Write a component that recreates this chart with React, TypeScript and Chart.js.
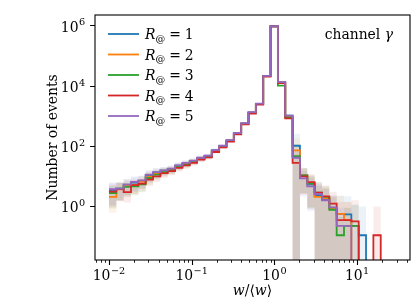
import React, { useEffect, useRef } from "react";
import { Chart, registerables } from "chart.js";

Chart.register(...registerables);

// ---------- data ----------
const binEdges = [
  0.01, 0.01227, 0.01505, 0.01847, 0.02266, 0.0278, 0.03411, 0.04185, 0.05135,
  0.06301, 0.07727, 0.0948, 0.1163, 0.1427, 0.1751, 0.2148, 0.2635, 0.3233,
  0.3967, 0.4867, 0.597, 0.7325, 0.8987, 1.1025, 1.3527, 1.6596, 2.0362,
  2.4981, 3.0649, 3.7605, 4.6132, 5.6599, 6.944, 8.5194, 10.452, 12.823,
  15.733, 19.303,
];

const seriesLabels = ["1", "2", "3", "4", "5"];
const seriesColors = ["#1f77b4", "#ff7f0e", "#2ca02c", "#d62728", "#9467bd"];

const countsR1 = [3.3, 3.8, 5.0, 6.0, 6.8, 10.5, 13, 15, 17, 22, 26, 31, 39, 46, 70, 98, 152, 260, 550, 1280, 2480, 21000, 930000, 13000, 1000, 100, 10.4, 5.2, 2.2, 1.67, 0.87, 0.55, 0.53, 0.22, 0.107, 0, 0];
const countsR2 = [2.0, 3.6, 4.6, 5.0, 6.5, 9.5, 12, 14, 16, 21, 25, 30, 38, 44, 68, 95, 148, 255, 540, 1250, 2450, 20800, 930000, 12800, 950, 70, 10.4, 5.6, 2.0, 1.8, 0.82, 0.55, 0.34, 0, 0, 0, 0];
const countsR3 = [2.7, 3.8, 4.3, 4.5, 5.2, 8.5, 11, 13.5, 15.5, 20, 24, 29, 36, 43, 66, 93, 145, 250, 530, 1230, 2420, 20500, 930000, 10000, 870, 45, 10.4, 5.6, 2.8, 2.0, 0.75, 0.107, 0.22, 0.22, 0, 0, 0];
const countsR4 = [3.0, 3.7, 2.9, 4.9, 5.5, 7.5, 9.7, 12.4, 14.5, 18.5, 22.3, 27, 35, 41, 62, 88, 138, 240, 510, 1180, 2350, 20000, 920000, 12000, 810, 27, 9.6, 6.2, 2.8, 2.1, 1.2, 0.34, 0.34, 0.31, 0, 0, 0.107];
const countsR5 = [3.6, 3.8, 5.2, 6.3, 7.1, 11, 13.4, 15.3, 17.4, 22.3, 27, 32, 40, 47, 72, 100, 155, 265, 560, 1300, 2500, 21000, 930000, 13000, 1000, 40, 8.3, 4.5, 2.5, 1.55, 0.9, 0.22, 0.22, 0, 0, 0, 0];

// relative uncertainty per bin (band half-height / value)
const relErr = [0.7, 0.6, 0.55, 0.5, 0.45, 0.4, 0.35, 0.3, 0.28, 0.25, 0.22, 0.2, 0.18, 0.16, 0.13, 0.11, 0.09, 0.07, 0.05, 0.035, 0.025, 0.01, 0.001, 0.02, 0.1, 1.5, 0.75, 0.85, 1.2, 1.3, 1.5, 3, 3, 4, 8, 8, 8];

const xTickValues = [0.01, 0.1, 1, 10];
const xTickExps = ["\u22122", "\u22121", "0", "1"];
const yTickValues = [1, 100, 1e4, 1e6];
const yTickExps = ["0", "2", "4", "6"];

const X_MIN = 0.00678;
const X_MAX = 43.6;
const Y_MIN = 0.0161;
const Y_MAX = 2.2e6;

const yTitle = "Number of events";
const annotation = "channel ";
const annotationGreek = "\u03b3";

const allCounts = [countsR1, countsR2, countsR3, countsR4, countsR5];

// ---------- style ----------
const FONT = '"DejaVu Serif", serif';
const FS = 13.9;
const SUP = 9.7;
const FLOOR = Y_MIN / 10; // where zero counts are sent (below the axis, like a log clip)

function rgba(hex: string, a: number) {
  const n = parseInt(hex.slice(1), 16);
  return `rgba(${(n >> 16) & 255},${(n >> 8) & 255},${n & 255},${a})`;
}

function drawPow(ctx: CanvasRenderingContext2D, exp: string, x: number, baseline: number, align: "center" | "right") {
  ctx.font = `${FS}px ${FONT}`;
  const wMain = ctx.measureText("10").width;
  ctx.font = `${SUP}px ${FONT}`;
  const wSup = ctx.measureText(exp).width;
  const total = wMain + wSup + 0.5;
  const left = align === "center" ? x - total / 2 : x - total;
  ctx.textAlign = "left";
  ctx.textBaseline = "alphabetic";
  ctx.font = `${FS}px ${FONT}`;
  ctx.fillText("10", left, baseline);
  ctx.font = `${SUP}px ${FONT}`;
  ctx.fillText(exp, left + wMain + 0.5, baseline - 6.3);
}

const bandsPlugin = {
  id: "bands",
  beforeDatasetsDraw(chart: any) {
    const { ctx, chartArea: a } = chart;
    const xs = chart.scales.x;
    const ys = chart.scales.y;
    ctx.save();
    ctx.beginPath();
    ctx.rect(a.left, a.top, a.right - a.left, a.bottom - a.top);
    ctx.clip();
    allCounts.forEach((vals, i) => {
      ctx.fillStyle = rgba(seriesColors[i], 0.09);
      let k = 0;
      while (k < vals.length) {
        if (!(vals[k] > 0)) {
          k++;
          continue;
        }
        const start = k;
        while (k < vals.length && vals[k] > 0) k++;
        const end = k;
        ctx.beginPath();
        for (let j = start; j < end; j++) {
          const yu = ys.getPixelForValue(vals[j] * (1 + relErr[j]));
          const x0 = xs.getPixelForValue(binEdges[j]);
          const x1 = xs.getPixelForValue(binEdges[j + 1]);
          if (j === start) ctx.moveTo(x0, yu);
          else ctx.lineTo(x0, yu);
          ctx.lineTo(x1, yu);
        }
        for (let j = end - 1; j >= start; j--) {
          const lo = vals[j] * (1 - relErr[j]);
          const yl = ys.getPixelForValue(lo > 0 ? lo : FLOOR);
          const x0 = xs.getPixelForValue(binEdges[j]);
          const x1 = xs.getPixelForValue(binEdges[j + 1]);
          ctx.lineTo(x1, yl);
          ctx.lineTo(x0, yl);
        }
        ctx.closePath();
        ctx.fill();
      }
    });
    ctx.restore();
  },
};

const axesPlugin = {
  id: "axesDecor",
  afterDraw(chart: any) {
    const { ctx, chartArea: a } = chart;
    const xs = chart.scales.x;
    const ys = chart.scales.y;
    ctx.save();
    ctx.fillStyle = "#000";
    ctx.strokeStyle = "#000";

    // frame
    ctx.lineWidth = 1.1;
    ctx.strokeRect(a.left, a.top, a.right - a.left, a.bottom - a.top);

    // x minor ticks
    ctx.lineWidth = 0.85;
    ctx.beginPath();
    for (let p = -3; p <= 1; p++) {
      for (let m = 2; m <= 9; m++) {
        const v = m * Math.pow(10, p);
        if (v < X_MIN || v > X_MAX) continue;
        const px = Math.round(xs.getPixelForValue(v)) + 0.5;
        ctx.moveTo(px, a.bottom);
        ctx.lineTo(px, a.bottom + 2.8);
      }
    }
    ctx.stroke();

    // x major ticks + labels
    ctx.lineWidth = 1.1;
    ctx.beginPath();
    xTickValues.forEach((v) => {
      const px = Math.round(xs.getPixelForValue(v)) + 0.5;
      ctx.moveTo(px, a.bottom);
      ctx.lineTo(px, a.bottom + 4.9);
    });
    ctx.stroke();
    xTickValues.forEach((v, i) => {
      drawPow(ctx, xTickExps[i], xs.getPixelForValue(v), a.bottom + 20, "center");
    });

    // y major ticks + labels
    ctx.beginPath();
    yTickValues.forEach((v) => {
      const py = Math.round(ys.getPixelForValue(v)) + 0.5;
      ctx.moveTo(a.left, py);
      ctx.lineTo(a.left - 4.9, py);
    });
    ctx.stroke();
    yTickValues.forEach((v, i) => {
      drawPow(ctx, yTickExps[i], a.left - 9.8, ys.getPixelForValue(v) + 6.3, "right");
    });

    // y title
    ctx.save();
    ctx.translate(56.5, (a.top + a.bottom) / 2);
    ctx.rotate(-Math.PI / 2);
    ctx.font = `${FS}px ${FONT}`;
    ctx.textAlign = "center";
    ctx.textBaseline = "alphabetic";
    ctx.fillText(yTitle, 0, 0);
    ctx.restore();

    // x title: w/<w>
    const parts: [string, boolean][] = [["w", true], ["/", false], ["\u27e8", false], ["w", true], ["\u27e9", false]];
    let tw = 0;
    const widths = parts.map(([t, it]) => {
      ctx.font = `${it ? "italic " : ""}${FS}px ${FONT}`;
      const w = ctx.measureText(t).width;
      tw += w;
      return w;
    });
    let cx = (a.left + a.right) / 2 - tw / 2;
    ctx.textAlign = "left";
    parts.forEach(([t, it], i) => {
      ctx.font = `${it ? "italic " : ""}${FS}px ${FONT}`;
      ctx.fillText(t, cx, a.bottom + 35);
      cx += widths[i];
    });

    // legend
    seriesLabels.forEach((lab, i) => {
      const ly = a.top + 19 + 20.5 * i;
      ctx.strokeStyle = seriesColors[i];
      ctx.lineWidth = 1.8;
      ctx.beginPath();
      ctx.moveTo(a.left + 13, ly);
      ctx.lineTo(a.left + 44, ly);
      ctx.stroke();
      ctx.fillStyle = "#000";
      let tx = a.left + 50;
      const bl = ly + 5;
      ctx.font = `italic ${FS}px ${FONT}`;
      ctx.fillText("R", tx, bl);
      tx += ctx.measureText("R").width;
      ctx.font = `${SUP}px ${FONT}`;
      ctx.fillText("@", tx, bl + 2.8);
      tx += ctx.measureText("@").width + 4;
      ctx.font = `${FS}px ${FONT}`;
      ctx.fillText("=", tx, bl);
      tx += ctx.measureText("=").width + 4;
      ctx.fillText(lab, tx, bl);
    });

    // annotation
    ctx.font = `${FS}px ${FONT}`;
    const w1 = ctx.measureText(annotation).width;
    ctx.font = `italic ${FS}px ${FONT}`;
    const w2 = ctx.measureText(annotationGreek).width;
    const sx = a.right - 17 - (w1 + w2);
    ctx.font = `${FS}px ${FONT}`;
    ctx.fillText(annotation, sx, a.top + 24);
    ctx.font = `italic ${FS}px ${FONT}`;
    ctx.fillText(annotationGreek, sx + w1, a.top + 24);

    ctx.restore();
  },
};

export default function App() {
  const ref = useRef<HTMLCanvasElement>(null);
  useEffect(() => {
    document.body.style.margin = "0";
    const datasets = allCounts.map((vals, i) => ({
      label: "R@ = " + seriesLabels[i],
      data: binEdges.map((e, k) => {
        const v = k < vals.length ? vals[k] : 0;
        return { x: e, y: v > 0 ? v : FLOOR };
      }),
      borderColor: seriesColors[i],
      backgroundColor: seriesColors[i],
      borderWidth: 1.8,
      stepped: "before" as const,
      pointRadius: 0,
      fill: false,
      clip: 0,
      order: 5 - i,
    }));
    const chart = new Chart(ref.current!, {
      type: "line",
      data: { datasets },
      options: {
        responsive: false,
        animation: false,
        devicePixelRatio: 1,
        layout: { padding: { left: 95, top: 15, right: 1, bottom: 48 } },
        scales: {
          x: { type: "logarithmic", min: X_MIN, max: X_MAX, display: false, bounds: "data" },
          y: { type: "logarithmic", min: Y_MIN, max: Y_MAX, display: false, bounds: "data" },
        },
        plugins: { legend: { display: false }, tooltip: { enabled: false } },
        events: [],
      },
      plugins: [bandsPlugin, axesPlugin],
    } as any);
    return () => chart.destroy();
  }, []);
  return (
    <div style={{ position: "absolute", left: 0, top: 0, width: 411, height: 308 }}>
      <canvas ref={ref} width={411} height={308} style={{ display: "block", width: 411, height: 308 }} />
    </div>
  );
}
